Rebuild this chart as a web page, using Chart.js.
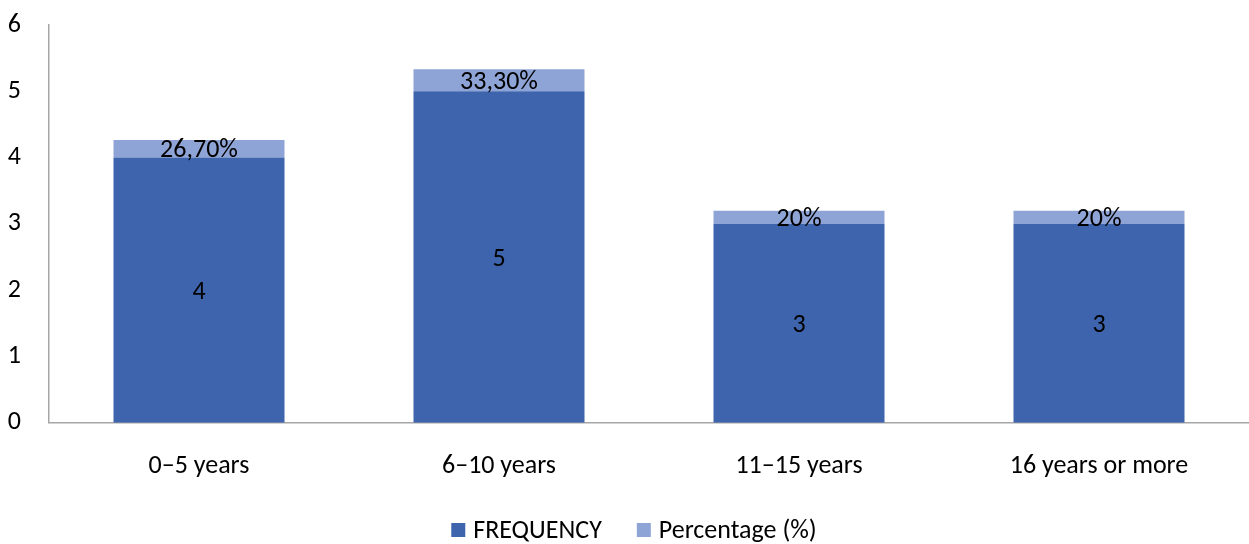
<!DOCTYPE html>
<html>
<head>
<meta charset="utf-8">
<script src="https://cdn.jsdelivr.net/npm/chart.js@4/dist/chart.umd.min.js"></script>
<style>
  html, body { margin: 0; padding: 0; background: #fff; }
  #wrap { width: 1249px; height: 544px; position: relative; }
</style>
</head>
<body>
<div id="wrap"><canvas id="c"></canvas></div>
<script>
const categories = ['0–5 years', '6–10 years', '11–15 years', '16 years or more'];
const frequency = [4, 5, 3, 3];
const percentage = [26.7, 33.3, 20, 20];
const yTicks = [0, 1, 2, 3, 4, 5, 6];

const FONT = "Carlito, Calibri, 'Open Sans', 'Noto Sans', sans-serif";

function pctLabel(v) {
  return (Number.isInteger(v) ? String(v) : v.toFixed(2).replace('.', ',')) + '%';
}

// Writes each segment's value in the middle of its bar section
const segmentLabels = {
  id: 'segmentLabels',
  afterDatasetsDraw(chart) {
    const ctx = chart.ctx;
    ctx.save();
    ctx.fillStyle = '#000';
    ctx.font = '26px ' + FONT;
    ctx.textAlign = 'center';
    ctx.textBaseline = 'middle';
    chart.data.datasets.forEach((ds, di) => {
      const meta = chart.getDatasetMeta(di);
      meta.data.forEach((bar, i) => {
        const y = (bar.y + bar.base) / 2;
        const txt = di === 0 ? String(ds.data[i]) : pctLabel(percentage[i]);
        ctx.fillText(txt, bar.x, y + 2);
      });
    });
    ctx.restore();
  }
};

// Series key along the bottom edge: square swatch followed by the series name
const bottomKey = {
  id: 'bottomKey',
  afterDraw(chart, args, opts) {
    const ctx = chart.ctx;
    ctx.save();
    ctx.font = '26px ' + FONT;
    ctx.textBaseline = 'middle';
    ctx.textAlign = 'left';
    const box = 14, gapText = 8, gapItem = 35;
    const items = chart.data.datasets.map(ds => ({
      text: ds.label, color: ds.backgroundColor, w: box + gapText + ctx.measureText(ds.label).width
    }));
    const total = items.reduce((s, it) => s + it.w, 0) + gapItem * (items.length - 1);
    let x = opts.centerX - total / 2;
    const y = opts.centerY;
    items.forEach(it => {
      ctx.fillStyle = it.color;
      ctx.fillRect(x, y - box / 2, box, box);
      ctx.fillStyle = '#000';
      ctx.fillText(it.text, x + box + gapText, y + 1);
      x += it.w + gapItem;
    });
    ctx.restore();
  }
};

new Chart(document.getElementById('c'), {
  type: 'bar',
  data: {
    labels: categories,
    datasets: [
      { label: 'FREQUENCY', data: frequency, backgroundColor: '#3D64AC', barPercentage: 0.57, categoryPercentage: 1 },
      { label: 'Percentage (%)', data: percentage.map(p => p / 100), backgroundColor: '#8FA4D6', barPercentage: 0.57, categoryPercentage: 1 }
    ]
  },
  options: {
    responsive: true,
    maintainAspectRatio: false,
    animation: false,
    layout: { padding: { top: 25, right: 0, left: 0, bottom: 34 } },
    plugins: {
      tooltip: { enabled: false },
      legend: { display: false },
      bottomKey: { centerX: 634, centerY: 530 }
    },
    scales: {
      x: {
        stacked: true,
        grid: { display: false, drawTicks: false },
        border: { display: true, color: '#A6A6A6', width: 1.5 },
        ticks: { font: { family: FONT, size: 26 }, color: '#000', padding: 28 }
      },
      y: {
        stacked: true,
        min: 0,
        max: 6,
        afterBuildTicks(axis) { axis.ticks = yTicks.map(v => ({ value: v })); },
        grid: { display: false, drawTicks: false },
        border: { display: true, color: '#A6A6A6', width: 1.5 },
        afterFit(axis) { axis.width = 49; axis.paddingTop = 0; axis.paddingBottom = 0; },
        ticks: { font: { family: FONT, size: 26 }, color: '#000', padding: 28, align: 'center' }
      }
    }
  },
  plugins: [segmentLabels, bottomKey]
});
</script>
</body>
</html>
